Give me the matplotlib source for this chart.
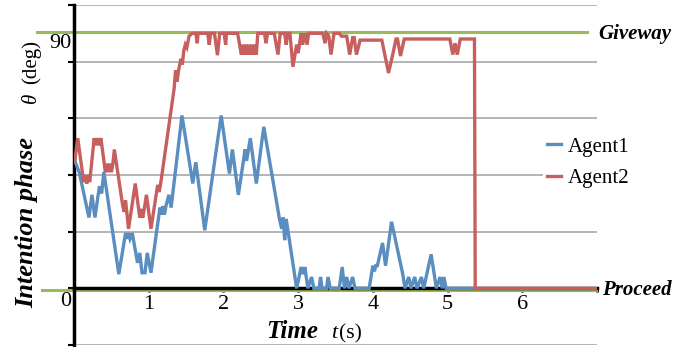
import matplotlib
matplotlib.use("Agg")
import matplotlib.pyplot as plt

plt.rcParams['font.family'] = ['Liberation Serif', 'DejaVu Serif']

# ---- data ----
agent1_t = [0.01, 0.07, 0.20, 0.24, 0.28, 0.34, 0.37, 0.40, 0.60, 0.69, 0.71, 0.73, 0.75, 0.78,
            0.85, 0.88, 0.91, 0.95, 0.98, 1.03, 1.15, 1.17, 1.19, 1.21, 1.23, 1.27, 1.30, 1.445,
            1.59, 1.63, 1.75, 1.97, 2.08, 2.12, 2.20, 2.29, 2.31, 2.36, 2.44, 2.54, 2.75, 2.78,
            2.80, 2.82, 2.84, 2.98, 3.04, 3.07, 3.09, 3.13, 3.18, 3.21, 3.28, 3.30, 3.32, 3.38,
            3.40, 3.43, 3.55, 3.59, 3.62, 3.65, 3.68, 3.73, 3.76, 3.95, 4.00, 4.02, 4.04, 4.06,
            4.13, 4.17, 4.25, 4.38, 4.40, 4.43, 4.48, 4.51, 4.56, 4.59, 4.65, 4.68, 4.78, 4.85,
            4.90, 4.93, 4.95, 4.98, 5.37]
agent1_v = [45, 41, 25, 33, 25, 36, 33.5, 41, 5, 19.5, 17.5, 19.5, 17.5, 19.5,
            9, 12.5, 5.5, 5.5, 12.5, 5.5, 28.5, 26, 29, 26, 29, 33, 28.5, 61,
            37, 44.5, 20.5, 61, 40.5, 49, 33, 49, 45, 53, 37, 57, 24.5, 21,
            25, 17, 24.5, 0, 7.5, 5, 7.5, 0, 4, 0, 0, 4, 0, 0,
            4, 0, 0, 7.5, 0, 4, 0, 4, 0, 0, 8, 6, 8, 8,
            16, 8, 23.5, 7.5, 5, 0, 4, 0, 4, 0, 4, 0, 12, 0,
            4, 0, 4, 0, 0]

agent2_t = [0.01, 0.05, 0.13, 0.15, 0.17, 0.19, 0.21, 0.27, 0.29, 0.31, 0.33, 0.36, 0.42, 0.44,
            0.46, 0.48, 0.50, 0.52, 0.54, 0.65, 0.67, 0.69, 0.73, 0.82, 0.88, 0.90, 0.92, 0.94,
            0.97, 1.03, 1.12, 1.14, 1.16, 1.30, 1.34, 1.36, 1.38, 1.40, 1.43, 1.45, 1.47, 1.49,
            1.51, 1.54, 1.58, 1.63, 1.65, 1.66, 1.79, 1.81, 1.83, 1.88, 1.92, 1.95, 2.01, 2.03,
            2.04, 2.19, 2.24, 2.26, 2.28, 2.30, 2.32, 2.34, 2.36, 2.38, 2.40, 2.42, 2.44, 2.46,
            2.55, 2.57, 2.59, 2.68, 2.73, 2.76, 2.82, 2.84, 2.86, 2.89, 2.93, 2.98, 3.00, 3.04,
            3.06, 3.09, 3.12, 3.14, 3.33, 3.36, 3.38, 3.41, 3.44, 3.48, 3.55, 3.58, 3.65, 3.69,
            3.73, 3.75, 3.78, 3.83, 4.12, 4.21, 4.27, 4.31, 4.33, 4.37, 4.42, 5.03, 5.07, 5.10,
            5.13, 5.17, 5.36, 5.37, 7.0]
agent2_v = [45, 53, 37.5, 40, 37, 40, 37.5, 53, 50.5, 53, 50.5, 53, 41, 44,
            41, 44, 41, 44, 49, 29.5, 27, 31, 21, 37, 25, 28, 25, 28,
            33, 21, 36.5, 34, 37, 63, 70.5, 77, 73, 77, 81, 79, 84, 86,
            85, 89, 90, 90, 86.5, 90, 90, 86, 90, 90, 82.3, 90, 90, 86,
            90, 90, 82.5, 86, 82.5, 86, 82.5, 86, 82.5, 86, 82.5, 86, 82.5, 90,
            90, 86.5, 90, 90, 82.5, 90, 90, 86, 90, 90, 78.2, 86, 83, 90,
            86, 90, 86, 90, 90, 86.5, 90, 89, 82.5, 90, 90, 89, 89, 82.5,
            88.5, 88.5, 82.5, 87.6, 87.6, 76, 83, 88, 88, 82, 88, 88, 82.5, 86.5,
            82.5, 88, 88, 0, 0]

series_names = ['Agent1', 'Agent2']
xtick_vals = [1, 2, 3, 4, 5, 6, 7]
xtick_labels = ['1', '2', '3', '4', '5', '6', '']
ytick_vals = [-20, 0, 20, 40, 60, 80, 100]
giveway_level = 90.5
proceed_level = -0.7

W, H = 678, 347
fig = plt.figure(figsize=(W / 100, H / 100), dpi=100)
ax = fig.add_axes([74 / W, 1 - 345 / H, (597 - 74) / W, (345 - 5) / H])

def fx(px):
    return px / W

def fy(py):
    return 1 - py / H

blue = '#5a8dc0'
red = '#c65f5e'
green = '#9bbb59'

for s in ['top', 'right']:
    ax.spines[s].set_visible(False)
ax.spines['left'].set_linewidth(2.5)
ax.spines['bottom'].set_position(('data', 0))
ax.spines['bottom'].set_linewidth(2.5)
ax.spines['bottom'].set_zorder(2.6)

ax.set_xlim(0, 7)
ax.set_ylim(-20, 100)

ax.set_yticks(ytick_vals)
ax.set_yticklabels([''] * len(ytick_vals))
ax.yaxis.grid(True, color='#a8a8a8', linewidth=1.2, zorder=0)
ax.set_axisbelow(True)
ax.tick_params(axis='y', direction='out', length=4, width=1.5, color='black')

ax.set_xticks(xtick_vals)
ax.set_xticklabels(xtick_labels)
ax.tick_params(axis='x', direction='out', length=3, width=2, color='black',
               pad=1.5, labelsize=16)

# reference lines
ax.plot([-0.5, 6.87], [giveway_level, giveway_level], color=green, lw=2.2,
        clip_on=False, zorder=2)
ax.plot([-0.43, 6.98], [proceed_level, proceed_level], color=green, lw=2.2,
        clip_on=False, zorder=2)

l1, = ax.plot(agent1_t, agent1_v, color=blue, lw=2.4, zorder=3, label=series_names[0],
              solid_joinstyle='miter')
l2, = ax.plot(agent2_t, agent2_v, color=red, lw=2.4, zorder=4, label=series_names[1],
              solid_joinstyle='miter')

leg = ax.legend(handles=[l1, l2], loc='center left',
                bbox_to_anchor=(fx(543), fy(162.5)), bbox_transform=fig.transFigure,
                frameon=True, framealpha=1, edgecolor='none', facecolor='white',
                prop={'family': 'Liberation Serif', 'size': 15},
                handlelength=0.65, handletextpad=0.35, labelspacing=0.55,
                borderpad=0.2, borderaxespad=0)
leg.set_zorder(5)

# texts
fig.text(fx(72), fy(43), '90', fontsize=16, ha='right', va='center')
fig.text(fx(66), fy(302), '0', fontsize=16, ha='center', va='center')

fig.text(fx(598), fy(39.5), 'Giveway', fontsize=15, fontweight='bold',
         fontstyle='italic', ha='left', va='baseline')
fig.text(fx(602), fy(295), 'Proceed', fontsize=15, fontweight='bold',
         fontstyle='italic', ha='left', va='baseline')

fig.text(fx(318), fy(338), 'Time', fontsize=18, fontweight='bold',
         fontstyle='italic', ha='right', va='baseline')
fig.text(fx(331), fy(338), 't', fontsize=16, fontstyle='italic',
         ha='left', va='baseline')
fig.text(fx(339), fy(338), '(s)', fontsize=15.5, ha='left', va='baseline')

fig.text(fx(33), fy(308), 'Intention phase', fontsize=19, fontweight='bold',
         fontstyle='italic', rotation=90, ha='left', va='baseline',
         rotation_mode='anchor')
fig.text(fx(36), fy(103), 'θ', fontsize=15, fontstyle='italic', rotation=90,
         ha='left', va='baseline', rotation_mode='anchor')
fig.text(fx(36), fy(84), '(deg)', fontsize=15, rotation=90,
         ha='left', va='baseline', rotation_mode='anchor')

fig.savefig('out.png', dpi=100)
